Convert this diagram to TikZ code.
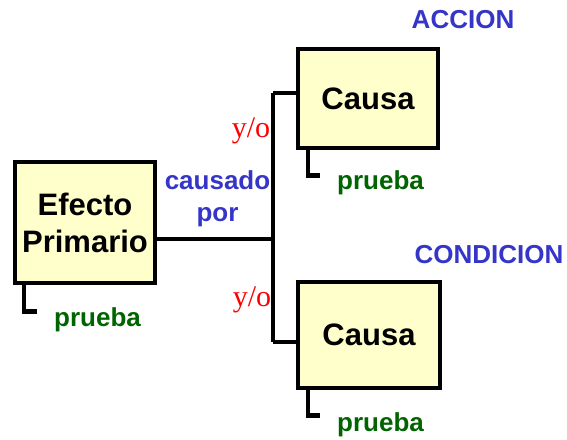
\documentclass[tikz,border=0pt]{standalone}
\usepackage{fontspec}
\setmainfont{Liberation Sans}
\newfontfamily\serifyo{Liberation Serif}
\usepackage{tikz}
\usetikzlibrary{positioning}

\definecolor{boxfill}{HTML}{FFFFCC}
\definecolor{lblblue}{HTML}{3535C8}
\definecolor{pruebagreen}{HTML}{006400}

\begin{document}
\begin{tikzpicture}[x=1pt,y=-1pt,
  causebox/.style={draw,line width=4.5pt,fill=boxfill,inner sep=0pt,align=center,
    font=\fontsize{31}{37}\selectfont\bfseries},
  wire/.style={line width=4.5pt},
  kindlbl/.style={text=lblblue,font=\fontsize{26}{32}\selectfont\bfseries,align=center,inner sep=0pt},
  proof/.style={text=pruebagreen,font=\fontsize{26}{30}\selectfont\bfseries,inner sep=0pt},
  yo/.style={text=red,font=\fontsize{30}{30}\selectfont\serifyo,inner sep=0pt}]
\useasboundingbox (0,0) rectangle (567,439);
\node[causebox,minimum width=140pt,minimum height=121pt] (efecto) at (85,222.5) {Efecto\\Primario};
\node[causebox,minimum width=140pt,minimum height=99pt] (causaA) at (368,98.5) {Causa};
\node[causebox,minimum width=142pt,minimum height=106pt] (causaB) at (369,335) {Causa};
\coordinate (tj) at (273,239);
\coordinate (tt) at (273,93);
\coordinate (tb) at (273,342);
\draw[wire] (efecto.east |- tj) -- (tj);
\draw[wire] (tt) -- (tb);
\draw[wire] (tt) -- (causaA.west |- tt);
\draw[wire] (tb) -- (causaB.west |- tb);
% prueba ticks
\draw[wire] ([xshift=11pt]efecto.south west) |- ++(13,26);
\draw[wire] ([xshift=12pt]causaA.south west) |- ++(12,25);
\draw[wire] ([xshift=12pt]causaB.south west) |- ++(12,25);
\node[proof] (pruebaE) at (97.5,320) {prueba};
\node[proof] (pruebaA) at (380.5,183) {prueba};
\node[proof] (pruebaB) at (380.5,425) {prueba};
\node[kindlbl] (causado) at (217.5,199) {causado\\por};
\node[kindlbl] (accion) at (463,20) {ACCION};
\node[kindlbl] (condicion) at (489,255) {CONDICION};
\node[yo] (yoA) at (251,131) {y/o};
\node[yo] (yoB) at (252,300) {y/o};
\end{tikzpicture}
\end{document}
